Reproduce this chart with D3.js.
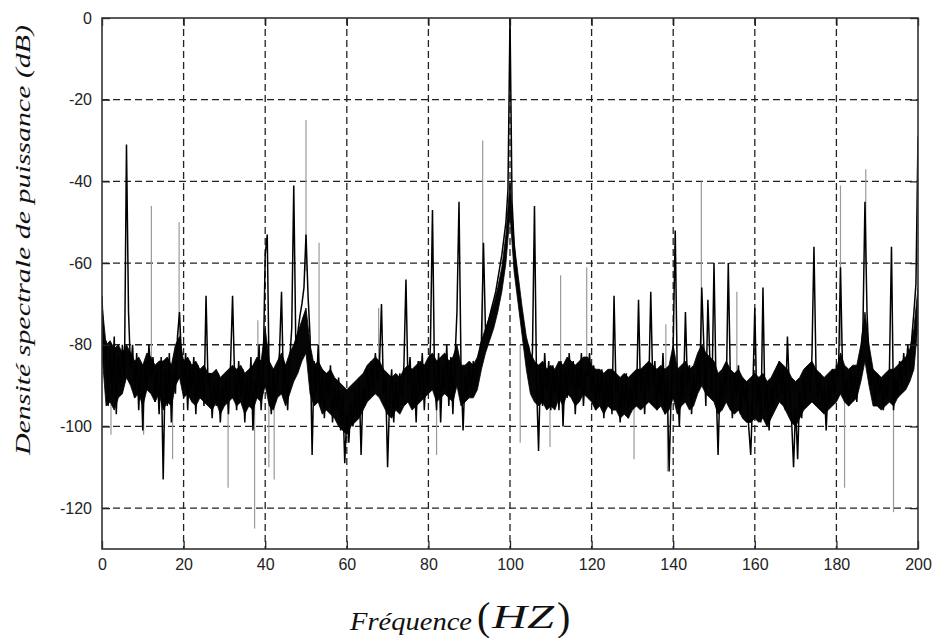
<!DOCTYPE html>
<html>
<head>
<meta charset="utf-8">
<script src="https://cdn.jsdelivr.net/npm/d3@7"></script>
<style>
  body { margin: 0; background: #fff; }
  svg { display: block; }
</style>
</head>
<body>
<svg id="chart"></svg>
<script>
// spectrum, one value every 0.5 Hz from 0 to 200 Hz
const freqStart = 0;
const freqStep = 0.5;
const psd = [
  -68, -84, -79, -95, -81, -92, -78, -97, -83, -90,
  -80, -88, -31, -72, -86, -80, -93, -82, -96, -85,
  -101, -84, -91, -80, -88, -83, -94, -86, -97, -83,
  -113, -86, -95, -82, -99, -87, -92, -78, -72, -84,
  -90, -82, -96, -84, -91, -83, -97, -85, -92, -86,
  -95, -68, -90, -87, -98, -89, -95, -87, -99, -90,
  -94, -88, -97, -85, -68, -88, -96, -84, -93, -86,
  -99, -88, -95, -83, -101, -89, -92, -80, -96, -87,
  -58, -53, -90, -97, -86, -94, -88, -82, -67, -92,
  -85, -96, -84, -76, -41, -80, -77, -73, -70, -66,
  -53, -68, -78, -107, -84, -92, -80, -95, -86, -98,
  -88, -93, -85, -99, -90, -96, -88, -101, -92, -109,
  -97, -104, -94, -100, -91, -98, -88, -107, -90, -95,
  -86, -93, -84, -91, -82, -89, -85, -70, -92, -88,
  -110, -93, -86, -99, -89, -96, -87, -93, -85, -64,
  -90, -83, -95, -86, -99, -84, -92, -82, -96, -85,
  -90, -80, -47, -88, -96, -82, -99, -85, -91, -80,
  -95, -83, -97, -84, -72, -45, -86, -101, -87, -93,
  -85, -91, -84, -90, -86, -82, -79, -55, -77, -75,
  -73, -71, -69, -67, -64, -61, -58, -54, -50, -42,
  0, -45, -55, -62, -66, -70, -74, -78, -82, -80,
  -86, -82, -46, -89, -106, -85, -95, -82, -91, -84,
  -96, -85, -92, -86, -96, -84, -100, -86, -93, -82,
  -90, -84, -97, -85, -91, -82, -95, -86, -88, -82,
  -92, -85, -96, -87, -93, -86, -98, -88, -94, -87,
  -97, -68, -92, -88, -99, -89, -96, -87, -98, -90,
  -95, -88, -94, -69, -92, -86, -97, -85, -91, -67,
  -90, -84, -96, -86, -93, -82, -97, -88, -111, -92,
  -80, -52, -88, -100, -86, -93, -72, -90, -85, -97,
  -87, -93, -84, -90, -66, -80, -95, -69, -84, -92,
  -60, -90, -107, -88, -95, -86, -92, -60, -88, -98,
  -87, -93, -85, -97, -88, -94, -90, -100, -107, -92,
  -71, -95, -88, -99, -66, -96, -89, -101, -90, -95,
  -87, -93, -84, -92, -86, -96, -78, -92, -98, -110,
  -95, -108, -91, -98, -87, -94, -85, -92, -83, -56,
  -86, -93, -87, -95, -90, -101, -89, -94, -86, -92,
  -85, -88, -61, -86, -93, -88, -95, -86, -92, -87,
  -94, -85, -82, -76, -45, -72, -84, -90, -86, -94,
  -87, -92, -88, -96, -89, -93, -86, -56, -96, -88,
  -93, -84, -90, -82, -88, -80, -86, -78, -72, -65,
  -29
];

// dense black core of the noise floor, top and bottom edge every 1 Hz
const bandHi = [
  -70, -80, -79, -81, -80, -82, -80, -82, -84, -83,
  -85, -82, -83, -85, -84, -84, -83, -85, -80, -78,
  -84, -83, -85, -84, -86, -85, -87, -87, -86, -88,
  -87, -86, -85, -86, -85, -87, -86, -85, -83, -84,
  -76, -84, -86, -84, -82, -85, -82, -80, -77, -74,
  -71, -80, -85, -84, -86, -87, -86, -88, -89, -90,
  -91, -90, -89, -88, -87, -85, -84, -83, -84, -86,
  -87, -88, -87, -88, -86, -85, -86, -85, -84, -85,
  -83, -82, -84, -83, -82, -84, -83, -80, -85, -85,
  -84, -85, -83, -79, -76, -73, -70, -66, -61, -53,
  -40, -55, -63, -71, -78, -82, -84, -85, -84, -86,
  -85, -86, -84, -85, -83, -84, -85, -84, -83, -83,
  -85, -86, -86, -87, -86, -86, -87, -88, -87, -88,
  -87, -86, -86, -85, -84, -85, -86, -85, -86, -85,
  -80, -86, -85, -84, -86, -85, -82, -80, -82, -83,
  -84, -87, -86, -84, -86, -87, -86, -88, -89, -88,
  -87, -88, -87, -89, -88, -86, -84, -85, -86, -88,
  -89, -88, -86, -85, -84, -86, -87, -88, -87, -86,
  -86, -82, -85, -86, -85, -85, -80, -72, -80, -86,
  -87, -88, -87, -86, -86, -85, -84, -83, -81, -76,
  -66
];
const bandLo = [
  -82, -95, -94, -96, -93, -92, -88, -90, -93, -92,
  -95, -91, -92, -94, -92, -96, -94, -95, -90, -88,
  -93, -92, -94, -95, -93, -94, -95, -96, -94, -97,
  -95, -94, -93, -95, -94, -97, -95, -96, -93, -94,
  -90, -95, -96, -93, -92, -95, -92, -89, -87, -84,
  -82, -92, -95, -94, -97, -96, -97, -98, -100, -101,
  -102, -100, -99, -98, -96, -94, -93, -92, -93, -95,
  -97, -98, -96, -97, -95, -94, -96, -95, -94, -93,
  -92, -91, -94, -93, -92, -93, -94, -90, -95, -94,
  -93, -93, -91, -86, -82, -79, -76, -72, -67, -60,
  -48, -62, -70, -78, -86, -92, -94, -95, -94, -96,
  -95, -96, -93, -95, -92, -93, -95, -94, -92, -93,
  -94, -96, -95, -97, -95, -96, -96, -98, -97, -98,
  -96, -95, -96, -95, -94, -95, -96, -95, -97, -96,
  -93, -97, -95, -94, -96, -95, -92, -90, -92, -93,
  -94, -97, -96, -94, -96, -97, -96, -98, -99, -99,
  -98, -99, -98, -100, -98, -96, -94, -95, -97, -99,
  -100, -98, -96, -95, -94, -95, -96, -97, -96, -95,
  -94, -92, -94, -95, -94, -93, -89, -84, -90, -95,
  -95, -96, -95, -94, -95, -93, -92, -91, -89, -86,
  -75
];

// thin grey lines: [frequency (Hz), from (dB), to (dB)]
const greyLines = [
  [2.2, -88, -102], [10.2, -90, -102], [12.1, -86, -46], [17.3, -90, -108],
  [18.9, -80, -50], [30.9, -92, -115], [37.4, -92, -125], [38.2, -88, -74],
  [40.9, -92, -110], [42.2, -90, -113], [50.0, -62, -25], [53.2, -86, -55],
  [67.8, -86, -71], [82.0, -90, -107], [93.3, -80, -30], [102.5, -80, -104],
  [109.8, -90, -105], [112.4, -88, -63], [118.8, -88, -61], [130.4, -90, -108],
  [138.2, -88, -75], [138.6, -92, -111], [146.9, -80, -40], [155.6, -88, -67],
  [181.0, -80, -41], [182.0, -90, -115], [187.2, -60, -37], [194.0, -92, -121]
];

const xTicks = [0, 20, 40, 60, 80, 100, 120, 140, 160, 180, 200];
const yTicks = [0, -20, -40, -60, -80, -100, -120];

const width = 938;
const height = 638;
const marginTop = 18;
const marginRight = 20;
const marginBottom = 89;
const marginLeft = 102;

const svg = d3.select('#chart').attr('width', width).attr('height', height);

const x = d3.scaleLinear([0, 200], [marginLeft, width - marginRight]);
const y = d3.scaleLinear([-130, 0], [height - marginBottom, marginTop]);

const plotW = width - marginLeft - marginRight;
const plotH = height - marginTop - marginBottom;

// dashed grid
svg
  .append('g')
  .selectAll('line')
  .data(xTicks.slice(1, -1))
  .join('line')
  .attr('x1', (d) => x(d))
  .attr('x2', (d) => x(d))
  .attr('y1', marginTop)
  .attr('y2', height - marginBottom)
  .attr('stroke', '#222')
  .attr('stroke-width', 1.3)
  .attr('stroke-dasharray', '7,4');
svg
  .append('g')
  .selectAll('line')
  .data(yTicks.slice(1))
  .join('line')
  .attr('x1', marginLeft)
  .attr('x2', width - marginRight)
  .attr('y1', (d) => y(d))
  .attr('y2', (d) => y(d))
  .attr('stroke', '#222')
  .attr('stroke-width', 1.3)
  .attr('stroke-dasharray', '7,4');

const plot = svg.append('g');

plot
  .append('clipPath')
  .attr('id', 'clip')
  .append('rect')
  .attr('x', marginLeft)
  .attr('y', marginTop)
  .attr('width', plotW)
  .attr('height', plotH);

plot
  .append('g')
  .attr('clip-path', 'url(#clip)')
  .selectAll('line')
  .data(greyLines)
  .join('line')
  .attr('x1', (d) => x(d[0]))
  .attr('x2', (d) => x(d[0]))
  .attr('y1', (d) => y(d[1]))
  .attr('y2', (d) => y(d[2]))
  .attr('stroke', '#9a9a9a')
  .attr('stroke-width', 1.2);

const band = d3
  .area()
  .x((d, i) => x(freqStart + i))
  .y0((d, i) => y(bandLo[i]))
  .y1((d) => y(d));

plot
  .append('path')
  .attr('clip-path', 'url(#clip)')
  .attr('d', band(bandHi))
  .attr('fill', '#050505')
  .attr('stroke', '#000')
  .attr('stroke-width', 0.8);

const line = d3
  .line()
  .x((d, i) => x(freqStart + i * freqStep))
  .y((d) => y(d));

plot
  .append('path')
  .attr('clip-path', 'url(#clip)')
  .attr('d', line(psd))
  .attr('fill', 'none')
  .attr('stroke', '#000')
  .attr('stroke-width', 1.5)
  .attr('stroke-linejoin', 'miter')
  .attr('stroke-miterlimit', 2);

// frame and inward ticks on all four sides
const tickFont = (g) =>
  g
    .style('font-family', '"Liberation Sans", Arial, sans-serif')
    .style('font-size', '16px')
    .style('fill', '#222');

svg
  .append('g')
  .attr('transform', `translate(0,${height - marginBottom})`)
  .call(d3.axisBottom(x).tickValues(xTicks).tickSize(-8).tickPadding(10).tickFormat((d) => String(d)))
  .call((g) => g.select('.domain').remove())
  .call((g) => g.selectAll('line').attr('stroke', '#222').attr('stroke-width', 1.3))
  .call((g) => tickFont(g.selectAll('text')));

svg
  .append('g')
  .attr('transform', `translate(${marginLeft},0)`)
  .call(d3.axisLeft(y).tickValues(yTicks).tickSize(-8).tickPadding(10).tickFormat((d) => String(d)))
  .call((g) => g.select('.domain').remove())
  .call((g) => g.selectAll('line').attr('stroke', '#222').attr('stroke-width', 1.3))
  .call((g) => tickFont(g.selectAll('text')));

svg
  .append('g')
  .attr('transform', `translate(0,${marginTop})`)
  .call(d3.axisTop(x).tickValues(xTicks).tickSize(-8).tickFormat(''))
  .call((g) => g.select('.domain').remove())
  .call((g) => g.selectAll('line').attr('stroke', '#222').attr('stroke-width', 1.3));

svg
  .append('g')
  .attr('transform', `translate(${width - marginRight},0)`)
  .call(d3.axisRight(y).tickValues(yTicks).tickSize(-8).tickFormat(''))
  .call((g) => g.select('.domain').remove())
  .call((g) => g.selectAll('line').attr('stroke', '#222').attr('stroke-width', 1.3));

svg
  .append('rect')
  .attr('x', marginLeft)
  .attr('y', marginTop)
  .attr('width', plotW)
  .attr('height', plotH)
  .attr('fill', 'none')
  .attr('stroke', '#333')
  .attr('stroke-width', 1.6);

// axis titles
const serif = '"Liberation Serif", "Times New Roman", serif';

svg
  .append('text')
  .attr('transform', `translate(30,240) rotate(-90)`)
  .attr('text-anchor', 'middle')
  .attr('textLength', 430)
  .attr('lengthAdjust', 'spacingAndGlyphs')
  .style('font-family', serif)
  .style('font-style', 'italic')
  .style('font-size', '22px')
  .style('fill', '#111')
  .text('Densité spectrale de  puissance (dB)');

svg
  .append('text')
  .attr('x', 350)
  .attr('y', 630)
  .attr('textLength', 122)
  .attr('lengthAdjust', 'spacingAndGlyphs')
  .style('font-family', serif)
  .style('font-style', 'italic')
  .style('font-size', '26px')
  .style('fill', '#111')
  .text('Fréquence');

svg
  .append('text')
  .attr('x', 477)
  .attr('y', 630)
  .style('font-family', serif)
  .style('font-size', '40px')
  .style('fill', '#111')
  .text('(');

svg
  .append('text')
  .attr('x', 492)
  .attr('y', 628)
  .attr('textLength', 62)
  .attr('lengthAdjust', 'spacingAndGlyphs')
  .style('font-family', serif)
  .style('font-style', 'italic')
  .style('font-size', '34px')
  .style('fill', '#111')
  .text('HZ');

svg
  .append('text')
  .attr('x', 557)
  .attr('y', 630)
  .style('font-family', serif)
  .style('font-size', '40px')
  .style('fill', '#111')
  .text(')');
</script>
</body>
</html>
